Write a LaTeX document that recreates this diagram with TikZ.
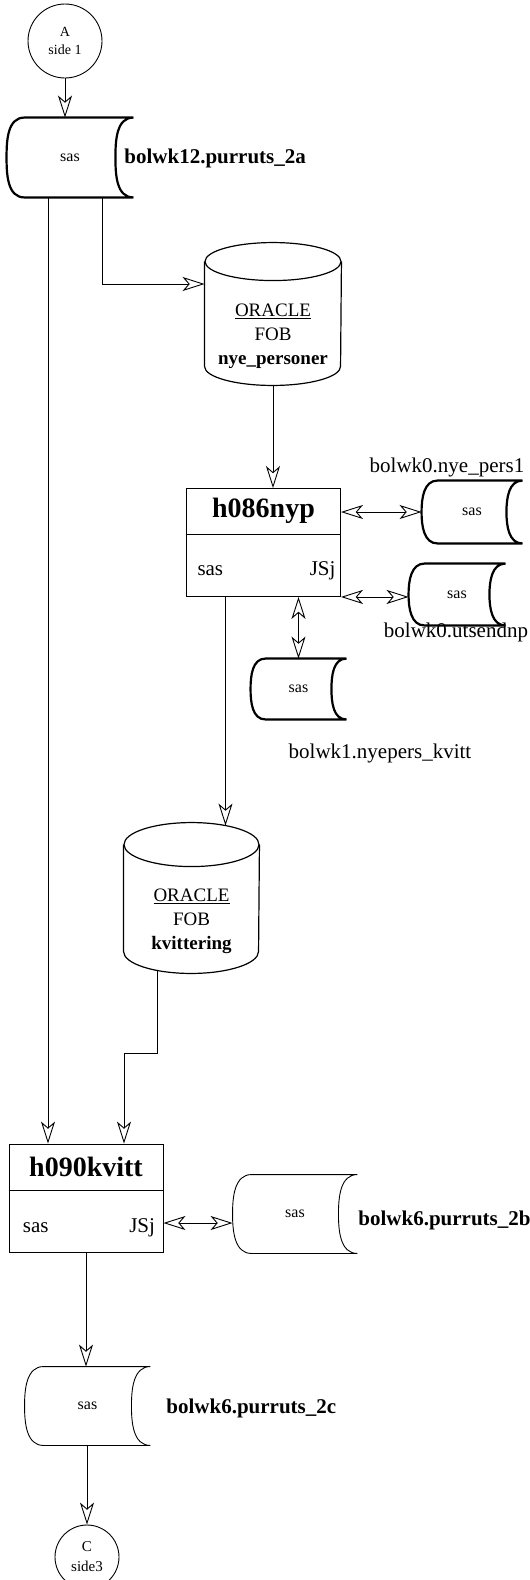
\documentclass[tikz,border=0pt]{standalone}
\usepackage{fontspec}
\setmainfont{Liberation Serif}
\usetikzlibrary{arrows.meta,calc,positioning}

\newcommand{\tapeline}[3][]{%
  \draw[#1] ($(#2.north west)+(#3,0)$) -- (#2.north east)
    to[out=180,in=90] ($(#2.east)-(#3,0)$) to[out=-90,in=180] (#2.south east)
    -- ($(#2.south west)+(#3,0)$) to[out=180,in=-90] (#2.west)
    to[out=90,in=180] ($(#2.north west)+(#3,0)$) -- cycle;}
\newcommand{\dbline}[4][]{%
  \draw[#1] ($(#2.north west)+(0,#4)$) -- ($(#2.south west)-(0,#4)$)
    arc[start angle=180, end angle=360, x radius=#3pt, y radius=#4pt]
    -- ($(#2.north east)+(0,#4)$);
  \draw[#1] ($(#2.north)+(0,#4)$) ellipse[x radius=#3pt, y radius=#4pt];}

\begin{document}
\begin{tikzpicture}[x=1pt, y=-1pt, line width=0.9pt,
  >={Stealth[open,length=22pt,width=14pt,inset=6pt]},
  pagecirc/.style={circle, draw, inner sep=0pt, align=center},
  tapebox/.style={inner sep=0pt, font=\fontsize{16}{19}\selectfont},
  runbox/.style={draw, minimum width=154pt, minimum height=108pt, inner sep=0pt},
  runtitle/.style={inner sep=0pt, font=\bfseries\fontsize{28}{32}\selectfont},
  runtext/.style={inner sep=0pt, font=\fontsize{21}{25}\selectfont},
  dsname/.style={inner sep=0pt, font=\bfseries\fontsize{21}{25}\selectfont},
  dsnote/.style={inner sep=0pt, font=\fontsize{21}{25}\selectfont},
  dbbox/.style={inner sep=0pt},
  dbtext/.style={inner sep=0pt, align=center, font=\fontsize{19}{24}\selectfont}]
\useasboundingbox (0,0) rectangle (530,1580);

\node[pagecirc, minimum size=74pt, font=\fontsize{14}{18}\selectfont] (pageA) at (65,41) {A\\side 1};

\node[tapebox, minimum width=126pt, minimum height=79pt] (ds1) at (70,157.5) {sas};
\tapeline[line width=2.2pt]{ds1}{18}
\node[dsname, anchor=west] (ds1name) at (124,158) {bolwk12.purruts\_2a};

\node[dbbox, minimum width=136pt, minimum height=142pt] (db1) at (273,314) {};
\dbline[line width=1.2pt]{db1}{68}{19}
\node[dbtext] (db1text) at ($(db1.center)+(0,22)$) {\underline{ORACLE}\\FOB\\\textbf{nye\_personer}};

\node[runbox] (run1) at (263.5,542.5) {};
\draw ($(run1.north west)+(0,46)$) -- ($(run1.north east)+(0,46)$);
\node[runtitle] (run1title) at ($(run1.north)+(0,23)$) {h086nyp};
\node[runtext, anchor=west] (run1lang) at ($(run1.south west)+(11,-26)$) {sas};
\node[runtext, anchor=east] (run1user) at ($(run1.south east)+(-5,-26)$) {JSj};

\node[tapebox, minimum width=100pt, minimum height=62pt] (ds2) at (472,512) {sas};
\tapeline[line width=2.2pt]{ds2}{16}
\node[dsnote] (ds2name) at (447,467) {bolwk0.nye\_pers1};

\node[tapebox, minimum width=96pt, minimum height=61pt] (ds3) at (457,594.5) {sas};
\tapeline[line width=2.2pt]{ds3}{16}
\node[dsnote] (ds3name) at (456,632) {bolwk0.utsendnp};

\node[tapebox, minimum width=95pt, minimum height=60pt] (ds4) at (298.5,689) {sas};
\tapeline[line width=2.2pt]{ds4}{15}
\node[dsnote] (ds4name) at (380,753) {bolwk1.nyepers\_kvitt};

\node[dbbox, minimum width=135pt, minimum height=150pt] (db2) at (191.5,898) {};
\dbline[line width=1.2pt]{db2}{67.5}{22}
\node[dbtext] (db2text) at ($(db2.center)+(0,23)$) {\underline{ORACLE}\\FOB\\\textbf{kvittering}};

\node[runbox] (run2) at (86,1198) {};
\draw ($(run2.north west)+(0,47)$) -- ($(run2.north east)+(0,47)$);
\node[runtitle] (run2title) at ($(run2.north)+(0,23)$) {h090kvitt};
\node[runtext, anchor=west] (run2lang) at ($(run2.south west)+(14,-25)$) {sas};
\node[runtext, anchor=east] (run2user) at ($(run2.south east)+(-8,-25)$) {JSj};

\node[tapebox, minimum width=124pt, minimum height=78pt] (ds5) at (295,1214) {sas};
\tapeline{ds5}{19}
\node[dsname, anchor=west] (ds5name) at (358,1220) {bolwk6.purruts\_2b};

\node[tapebox, minimum width=125pt, minimum height=78pt] (ds6) at (87.5,1406) {sas};
\tapeline{ds6}{19}
\node[dsname, anchor=west] (ds6name) at (166,1408) {bolwk6.purruts\_2c};

\node[pagecirc, minimum size=64pt, font=\fontsize{15}{20}\selectfont] (pageC) at (87,1557) {C\\side3};

\coordinate (feed1) at ([xshift=-38pt]run2.north);
\coordinate (feed2) at ([xshift=38pt]run2.north);
\coordinate (out1) at ([xshift=-38pt]run1.south);
\coordinate (db2out) at ($(db2.south)+(-34,-3)$);
\coordinate (ds5in) at ([yshift=-9pt]ds5.west);

\draw[->] (pageA.south) -- (pageA.south |- ds1.north);
\draw[->] (feed1 |- ds1.south) -- (feed1);
\draw[->] ([xshift=32pt]ds1.south) |- ([yshift=30pt]db1.west);
\draw[->] (db1.south) -- (db1.south |- run1.north);
\draw[<->] (run1.east |- ds2.west) -- (ds2.west);
\draw[<->] (run1.south east) -- (run1.south east -| ds3.west);
\draw[<->] (ds4.north |- run1.south) -- (ds4.north);
\draw[->] (out1) -- ($(out1 |- db2.north)+(0,3)$);
\draw[->] (db2out) -- ++(0,83) -| (feed2);
\draw[<->] (run2.east |- ds5in) -- (ds5in);
\draw[->] (run2.south) -- (run2.south |- ds6.north);
\draw[->] (ds6.south -| pageC.north) -- (pageC.north);
\end{tikzpicture}
\end{document}
